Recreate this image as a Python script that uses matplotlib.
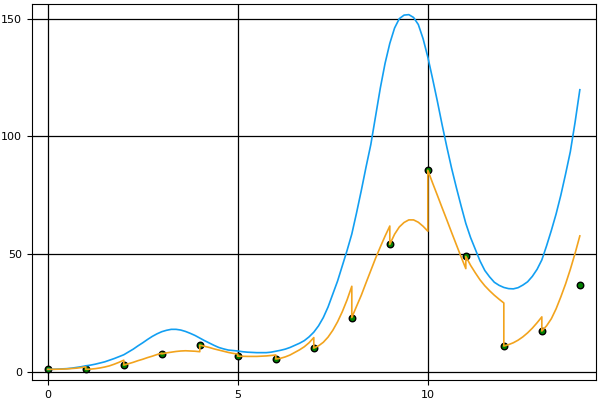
import numpy as np
import matplotlib
matplotlib.use("Agg")
import matplotlib.pyplot as plt

# observed points
obs_x = list(range(15))
obs_y = [1.0, 1.0, 2.8, 7.6, 11.3, 6.6, 5.4, 10.0, 23.0, 54.1, 85.6, 49.0, 10.9, 17.3, 37.0]

# smooth curve, read every 0.125
curve_x = np.arange(0, 14.001, 0.125)
curve_y = [1.0, 1.02, 1.1, 1.2, 1.3, 1.5, 1.8, 2.1,
           2.5, 2.8, 3.2, 3.7, 4.2, 4.9, 5.6, 6.4,
           7.2, 8.4, 9.6, 11.0, 12.3, 13.7, 15.0, 16.1,
           17.0, 17.6, 18.0, 18.0, 17.7, 17.1, 16.3, 15.4,
           14.3, 13.2, 12.2, 11.2, 10.3, 9.7, 9.2, 9.0,
           8.8, 8.5, 8.3, 8.2, 8.1, 8.1, 8.1, 8.3,
           8.7, 9.1, 9.6, 10.3, 11.2, 12.1, 13.2, 14.8,
           16.8, 19.5, 23.0, 27.5, 33.0, 38.5, 45.0, 51.5,
           58.5, 67.5, 77.0, 87.0, 96.5, 108.5, 120.5, 131.0,
           139.5, 146.0, 150.0, 151.5, 151.7, 150.5, 147.5, 141.5,
           133.7, 124.5, 115.0, 105.0, 95.5, 86.5, 78.3, 70.5,
           63.0, 57.0, 52.0, 47.0, 43.0, 40.3, 38.0, 36.7,
           35.8, 35.3, 35.2, 35.7, 36.8, 38.2, 40.5, 43.5,
           47.5, 53.5, 60.0, 67.0, 75.0, 84.0, 93.5, 106.0,
           119.8]

# one-step curve pieces, one per interval [i, i+1], read every 0.125
step_y = [
    [1.0, 1.02, 1.05, 1.1, 1.2, 1.35, 1.5, 1.75, 2.1],
    [1.0, 1.1, 1.3, 1.6, 2.0, 2.5, 3.2, 4.0, 4.9],
    [2.8, 3.4, 4.0, 4.7, 5.3, 6.0, 6.6, 7.3, 7.9],
    [7.6, 8.0, 8.3, 8.6, 8.8, 8.9, 8.8, 8.7, 8.5],
    [11.3, 10.8, 10.3, 9.7, 9.2, 8.7, 8.2, 7.8, 7.5],
    [6.6, 6.55, 6.5, 6.5, 6.5, 6.6, 6.7, 6.9, 7.1],
    [5.4, 5.7, 6.3, 7.1, 8.2, 9.3, 10.6, 12.3, 14.5],
    [10.0, 11.0, 12.5, 14.7, 17.6, 21.2, 25.5, 30.5, 36.3],
    [23.0, 27.8, 32.5, 37.8, 43.0, 48.2, 53.0, 57.6, 61.9],
    [54.1, 58.4, 61.5, 63.4, 64.5, 64.5, 63.5, 61.8, 59.7],
    [85.6, 80.2, 75.0, 69.7, 64.5, 59.2, 54.0, 48.8, 43.8],
    [49.0, 45.2, 42.0, 39.0, 36.5, 34.4, 32.5, 30.8, 29.2],
    [10.9, 11.5, 12.3, 13.4, 14.8, 16.5, 18.5, 20.8, 23.3],
    [17.3, 19.5, 22.5, 26.7, 31.8, 37.3, 43.5, 50.3, 57.7],
]
step_offsets = np.linspace(0, 1, 9)

step_xs = np.concatenate([i + step_offsets for i in range(len(step_y))])
step_ys = np.concatenate(step_y)

fig = plt.figure(figsize=(6, 4), dpi=100)
ax = fig.add_axes([0.053, 0.05, 0.94, 0.94])
ax.margins(0.03)
ax.grid(True, color="black", linewidth=0.9)
ax.set_axisbelow(True)
ax.scatter(obs_x, obs_y, s=22, c="green", edgecolors="black", linewidths=1, zorder=3)
ax.plot(curve_x, curve_y, color="#129ff2", linewidth=1.2, zorder=4)
ax.plot(step_xs, step_ys, color="#f2a31d", linewidth=1.2, zorder=5)
ax.set_xticks([0, 5, 10])
ax.set_yticks([0, 50, 100, 150])
ax.tick_params(labelsize=8, length=3.5)
fig.savefig("out.png")
